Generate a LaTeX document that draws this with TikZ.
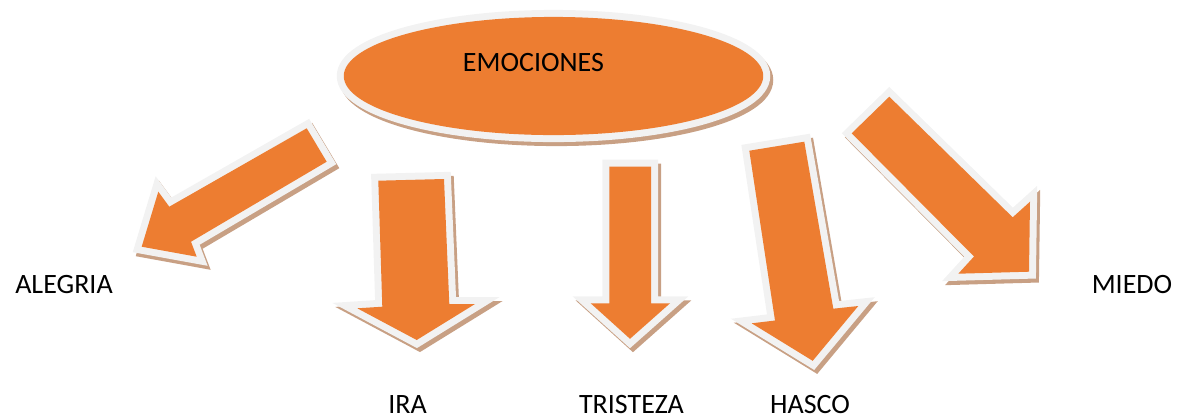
\documentclass[tikz,border=0pt]{standalone}
\usepackage{fontspec}
\setmainfont{Carlito}
\definecolor{emorange}{HTML}{ED7D31}
\definecolor{emrim}{HTML}{F2F2F2}
\definecolor{emshadow}{HTML}{C8A084}
\tikzset{
  emlbl/.style={anchor=base, inner sep=0pt, font=\fontsize{21}{25}\selectfont},
  emshadowpath/.style={fill=emshadow, draw=emshadow, line width=10.5pt, line join=miter, shift={(3,4)}},
  emrimpath/.style={fill=emrim, draw=emrim, line width=10.5pt, line join=miter},
  emfillpath/.style={fill=emorange}
}
\newcommand\emshape[1]{%
  \path[emshadowpath] #1;
  \path[emrimpath] #1;
  \path[emfillpath] #1;}
\begin{document}
\begin{tikzpicture}[x=0.75pt, y=-0.75pt]
\useasboundingbox (0,0) rectangle (1182,419);
% central ellipse
\emshape{(553.5,76) ellipse [x radius=157.3pt, y radius=44.3pt]}
% arrows
\emshape{(306.7,128.3)--(326.7,161.7)--(191,241.7)--(196.7,256.7)--(141.7,246.7)--(158.3,191.7)--(169.3,206.7)--cycle}
\emshape{(378.3,180.7)--(444,179)--(449.3,304)--(475,304)--(416.7,340)--(357.3,308.3)--(382.3,306.7)--cycle}
\emshape{(609.3,166.7)--(651,166.7)--(651,303.3)--(670,303.3)--(630,338.8)--(590.7,303.3)--(609.3,303.3)--cycle}
\emshape{(749.3,150.7)--(804.3,141.7)--(833.3,308.7)--(858.3,306)--(812.7,360.8)--(751.7,323.3)--(775,320.5)--cycle}
\emshape{(889.3,96.7)--(1012.7,217.3)--(1030,201.7)--(1029,271.7)--(958.3,273.7)--(974,256.5)--(851.7,133.3)--cycle}
% texts
\node[emlbl] (emociones) at (533.5,71) {EMOCIONES};
\node[emlbl] (alegria) at (64,293) {ALEGRIA};
\node[emlbl] (ira) at (407.5,413) {IRA};
\node[emlbl] (tristeza) at (631.5,413) {TRISTEZA};
\node[emlbl] (hasco) at (810,413) {HASCO};
\node[emlbl] (miedo) at (1132,293) {MIEDO};
\end{tikzpicture}
\end{document}
